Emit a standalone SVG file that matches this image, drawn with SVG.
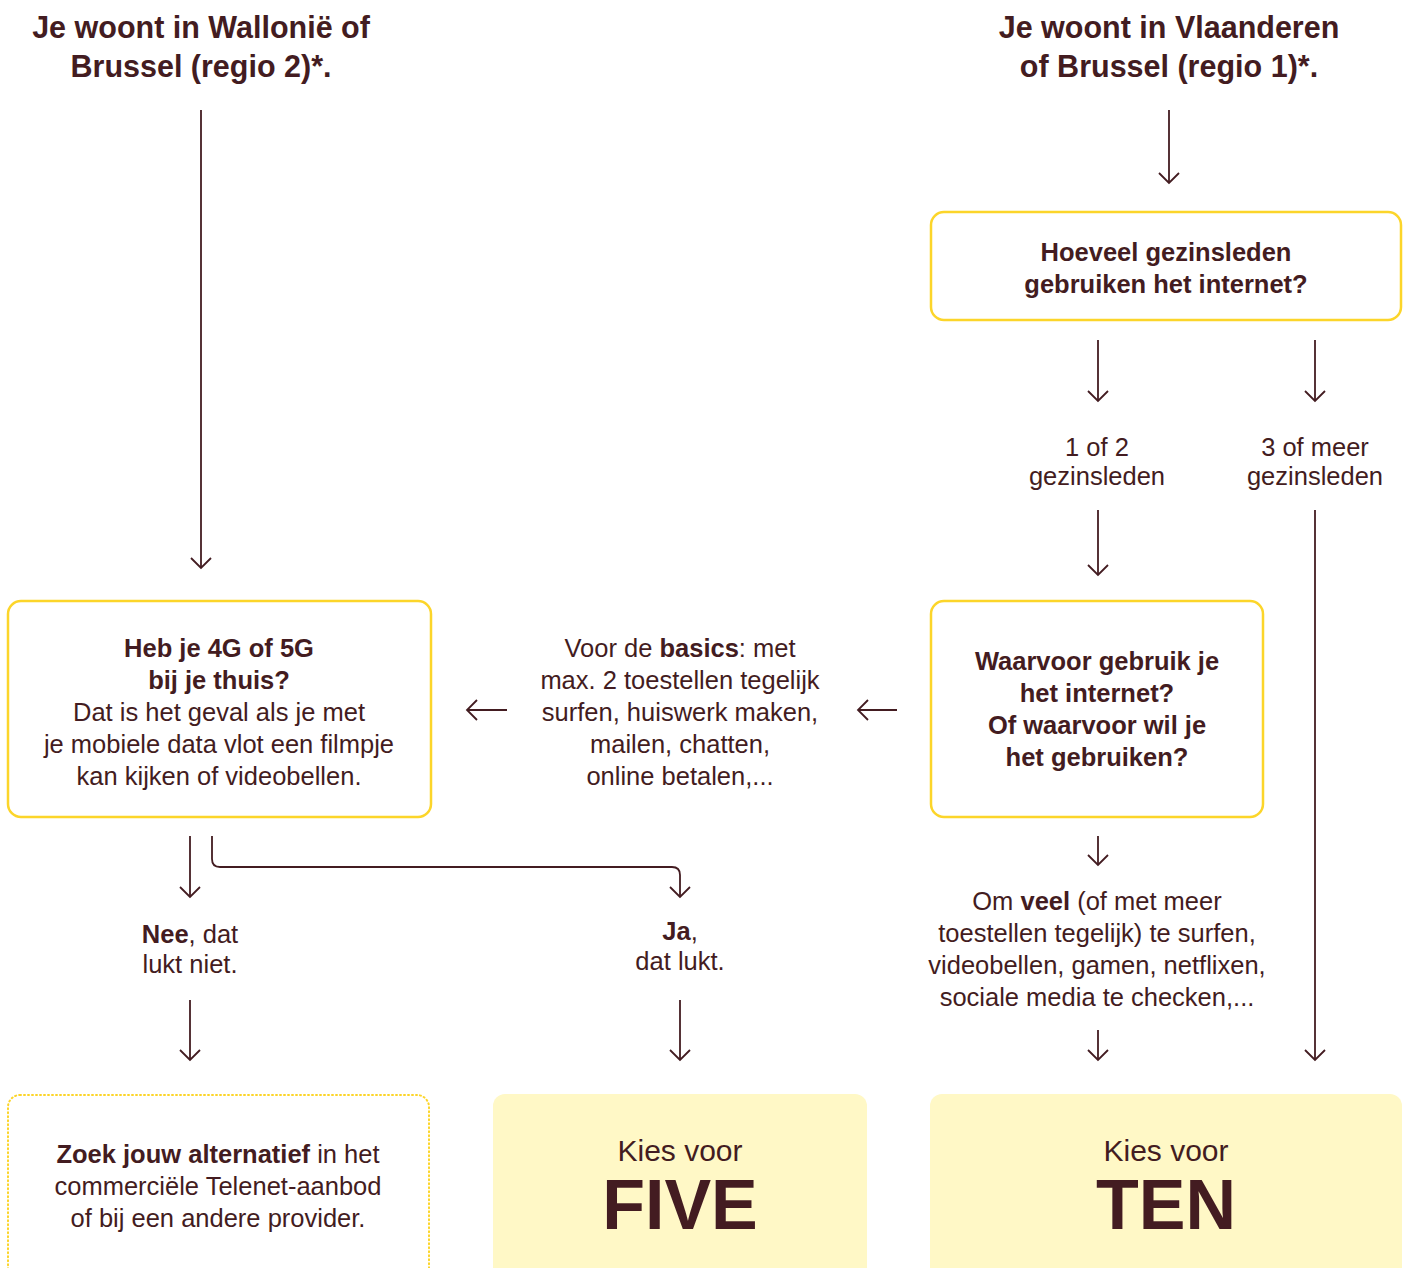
<svg xmlns="http://www.w3.org/2000/svg" width="1407" height="1268" viewBox="0 0 1407 1268">
<defs>
<marker id="ah" markerUnits="userSpaceOnUse" markerWidth="24" markerHeight="24" refX="0" refY="0" viewBox="-12 -12 24 24" orient="auto" overflow="visible">
<path d="M-10,-10 L0,0 L-10,10" fill="none" stroke="#431c21" stroke-width="1.8"/>
</marker>
</defs>
<style>
text{font-family:"Liberation Sans",Arial,sans-serif;fill:#431c21;text-anchor:middle}
.t{font-size:30.5px;font-weight:bold}
.b{font-size:25.5px;font-weight:bold}
.r{font-size:25.5px}
.k{font-size:30px}
.big{font-size:70px;font-weight:bold}
.box{fill:#fff;stroke:#fcd52a;stroke-width:2.5}
.dot{fill:#fff;stroke:#fcd52a;stroke-width:2;stroke-dasharray:1 3;stroke-linecap:round}
.fill{fill:#fff8c6}
.c{fill:none;stroke:#431c21;stroke-width:1.8;marker-end:url(#ah)}
</style>
<rect width="1407" height="1268" fill="#fff"/>
<g id="title-left">
<text class="t" x="201" y="38">Je woont in Wallonië of</text>
<text class="t" x="201" y="77">Brussel (regio 2)*.</text>
</g>
<g id="title-right">
<text class="t" x="1169" y="38">Je woont in Vlaanderen</text>
<text class="t" x="1169" y="77">of Brussel (regio 1)*.</text>
</g>
<g id="q-members">
<rect class="box" x="931" y="212" width="470" height="108" rx="13"/>
<text class="b" x="1166" y="261">Hoeveel gezinsleden</text>
<text class="b" x="1166" y="293">gebruiken het internet?</text>
</g>
<g id="lbl-1of2">
<text class="r" x="1097" y="456">1 of 2</text>
<text class="r" x="1097" y="485">gezinsleden</text>
</g>
<g id="lbl-3ofmeer">
<text class="r" x="1315" y="456">3 of meer</text>
<text class="r" x="1315" y="485">gezinsleden</text>
</g>
<g id="q-usage">
<rect class="box" x="931" y="601" width="332" height="216" rx="13"/>
<text class="b" x="1097" y="670">Waarvoor gebruik je</text>
<text class="b" x="1097" y="702">het internet?</text>
<text class="b" x="1097" y="734">Of waarvoor wil je</text>
<text class="b" x="1097" y="766">het gebruiken?</text>
</g>
<g id="lbl-basics">
<text class="r" x="680" y="657">Voor de <tspan font-weight="bold">basics</tspan>: met</text>
<text class="r" x="680" y="689">max. 2 toestellen tegelijk</text>
<text class="r" x="680" y="721">surfen, huiswerk maken,</text>
<text class="r" x="680" y="753">mailen, chatten,</text>
<text class="r" x="680" y="785">online betalen,...</text>
</g>
<g id="q-4g">
<rect class="box" x="8" y="601" width="423" height="216" rx="13"/>
<text class="b" x="219" y="657">Heb je 4G of 5G</text>
<text class="b" x="219" y="689">bij je thuis?</text>
<text class="r" x="219" y="721">Dat is het geval als je met</text>
<text class="r" x="219" y="753">je mobiele data vlot een filmpje</text>
<text class="r" x="219" y="785">kan kijken of videobellen.</text>
</g>
<g id="lbl-nee">
<text class="r" x="190" y="943"><tspan font-weight="bold">Nee</tspan>, dat</text>
<text class="r" x="190" y="973">lukt niet.</text>
</g>
<g id="lbl-ja">
<text class="r" x="680" y="940"><tspan font-weight="bold">Ja</tspan>,</text>
<text class="r" x="680" y="970">dat lukt.</text>
</g>
<g id="lbl-veel">
<text class="r" x="1097" y="910">Om <tspan font-weight="bold">veel</tspan> (of met meer</text>
<text class="r" x="1097" y="942">toestellen tegelijk) te surfen,</text>
<text class="r" x="1097" y="974">videobellen, gamen, netflixen,</text>
<text class="r" x="1097" y="1006">sociale media te checken,...</text>
</g>
<g id="res-alt">
<rect class="dot" x="8" y="1095" width="421" height="200" rx="12"/>
<text class="r" x="218" y="1163"><tspan font-weight="bold">Zoek jouw alternatief</tspan> in het</text>
<text class="r" x="218" y="1195">commerciële Telenet-aanbod</text>
<text class="r" x="218" y="1227">of bij een andere provider.</text>
</g>
<g id="res-five">
<rect class="fill" x="493" y="1094" width="374" height="200" rx="12"/>
<text class="k" x="680" y="1161">Kies voor</text>
<text class="big" x="680" y="1229">FIVE</text>
</g>
<g id="res-ten">
<rect class="fill" x="930" y="1094" width="472" height="200" rx="12"/>
<text class="k" x="1166" y="1161">Kies voor</text>
<text class="big" x="1166" y="1229">TEN</text>
</g>
<g id="connectors">
<path class="c" d="M201,110 V568"/>
<path class="c" d="M1169,110 V183"/>
<path class="c" d="M1098,340 V401"/>
<path class="c" d="M1315,340 V401"/>
<path class="c" d="M1098,510 V575"/>
<path class="c" d="M1315,510 V1060"/>
<path class="c" d="M897,710 H858"/>
<path class="c" d="M507,710 H467"/>
<path class="c" d="M190,836 V897"/>
<path class="c" d="M212,836 V859 Q212,867 220,867 H672 Q680,867 680,875 V897"/>
<path class="c" d="M1098,836 V865"/>
<path class="c" d="M190,1000 V1060"/>
<path class="c" d="M680,1000 V1060"/>
<path class="c" d="M1098,1030 V1060"/>
</g>
</svg>
